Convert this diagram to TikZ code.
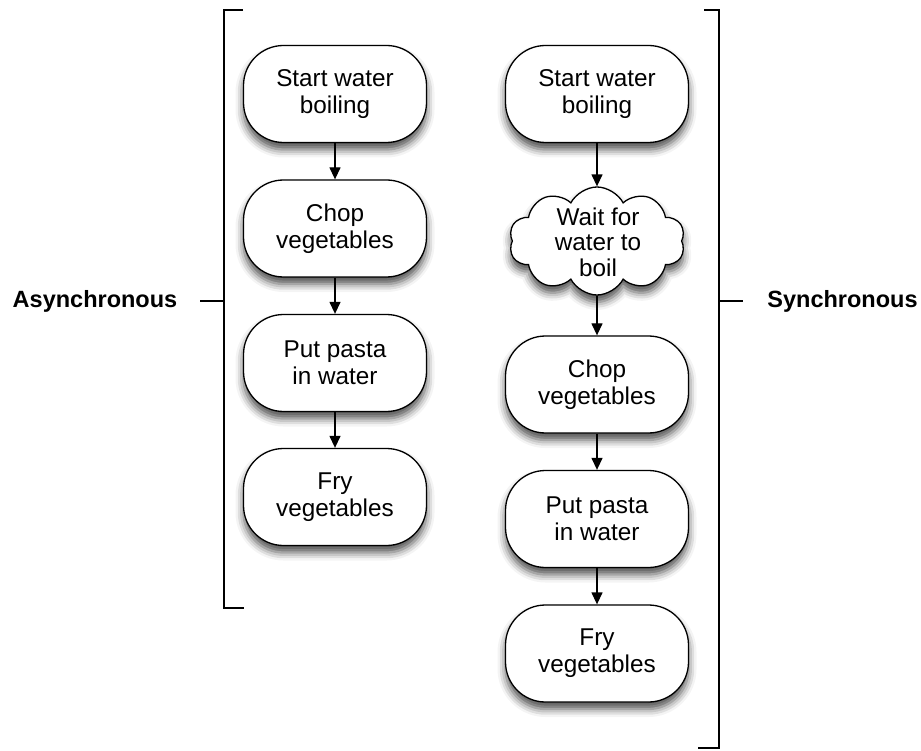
\documentclass[tikz,border=0pt]{standalone}
\usepackage{fontspec}
\setmainfont{Liberation Sans}
\usetikzlibrary{shapes.symbols,arrows.meta,shadows.blur}
\tikzset{
  stepbox/.style={draw=black, line width=1.3pt, fill=white, rounded corners=40pt,
    minimum width=183pt, minimum height=97pt, align=center, inner sep=0pt,
    font=\fontsize{24.3}{27}\selectfont,
    blur shadow={shadow xshift=0pt, shadow yshift=-7pt, shadow blur radius=8pt, shadow opacity=70}},
  cloudbox/.style={cloud, draw=black, line width=1.3pt, fill=white, cloud puffs=10,
    cloud puff arc=125, cloud ignores aspect, minimum width=176pt, minimum height=108pt, inner sep=0pt,
    blur shadow={shadow xshift=0pt, shadow yshift=-7pt, shadow blur radius=8pt, shadow opacity=70}},
  cloudtext/.style={align=center, inner sep=0pt, font=\fontsize{24.3}{25.5}\selectfont},
  flow/.style={line width=1.3pt, -{Triangle[length=12pt,width=11pt]}},
  bracketline/.style={line width=1.8pt},
  tick/.style={line width=1.3pt},
  sidelabel/.style={font=\fontsize{23.5}{27}\selectfont\bfseries, inner sep=0pt}
}
\begin{document}
\begin{tikzpicture}[x=1pt,y=-1pt]
\path[use as bounding box] (0,0) rectangle (921,751);

% Asynchronous column
\node[stepbox] (a1) at (335,94) {Start water\\boiling};
\node[stepbox] (a2) at (335,228.5) {Chop\\vegetables};
\node[stepbox] (a3) at (335,363) {Put pasta\\in water};
\node[stepbox] (a4) at (335,497) {Fry\\vegetables};
\draw[flow] (a1) -- (a2);
\draw[flow] (a2) -- (a3);
\draw[flow] (a3) -- (a4);

% Synchronous column
\node[stepbox] (s1) at (597,94) {Start water\\boiling};
\node[cloudbox] (s2) at (597,241) {};
\node[cloudtext] (s2t) at (598,242) {Wait for\\water to\\boil};
\node[stepbox] (s3) at (597,384.5) {Chop\\vegetables};
\node[stepbox] (s4) at (597,519) {Put pasta\\in water};
\node[stepbox] (s5) at (597,653.5) {Fry\\vegetables};
\draw[flow] (s1) -- (s2);
\draw[flow] (s2) -- (s3);
\draw[flow] (s3) -- (s4);
\draw[flow] (s4) -- (s5);

% Brackets
\draw[bracketline] (243,10) -- (224,10) -- (224,608) -- (244,608);
\draw[bracketline] (704,10) -- (719,10) -- (719,748) -- (698,748);

% Labels
\node[sidelabel] (async) at (95,301) {Asynchronous};
\node[sidelabel] (sync) at (842.5,301) {Synchronous};
\coordinate (lb) at (224,301);
\coordinate (rb) at (719,301);
\draw[tick] (200,301) -- (lb);
\draw[tick] (rb) -- (743,301);
\end{tikzpicture}
\end{document}
